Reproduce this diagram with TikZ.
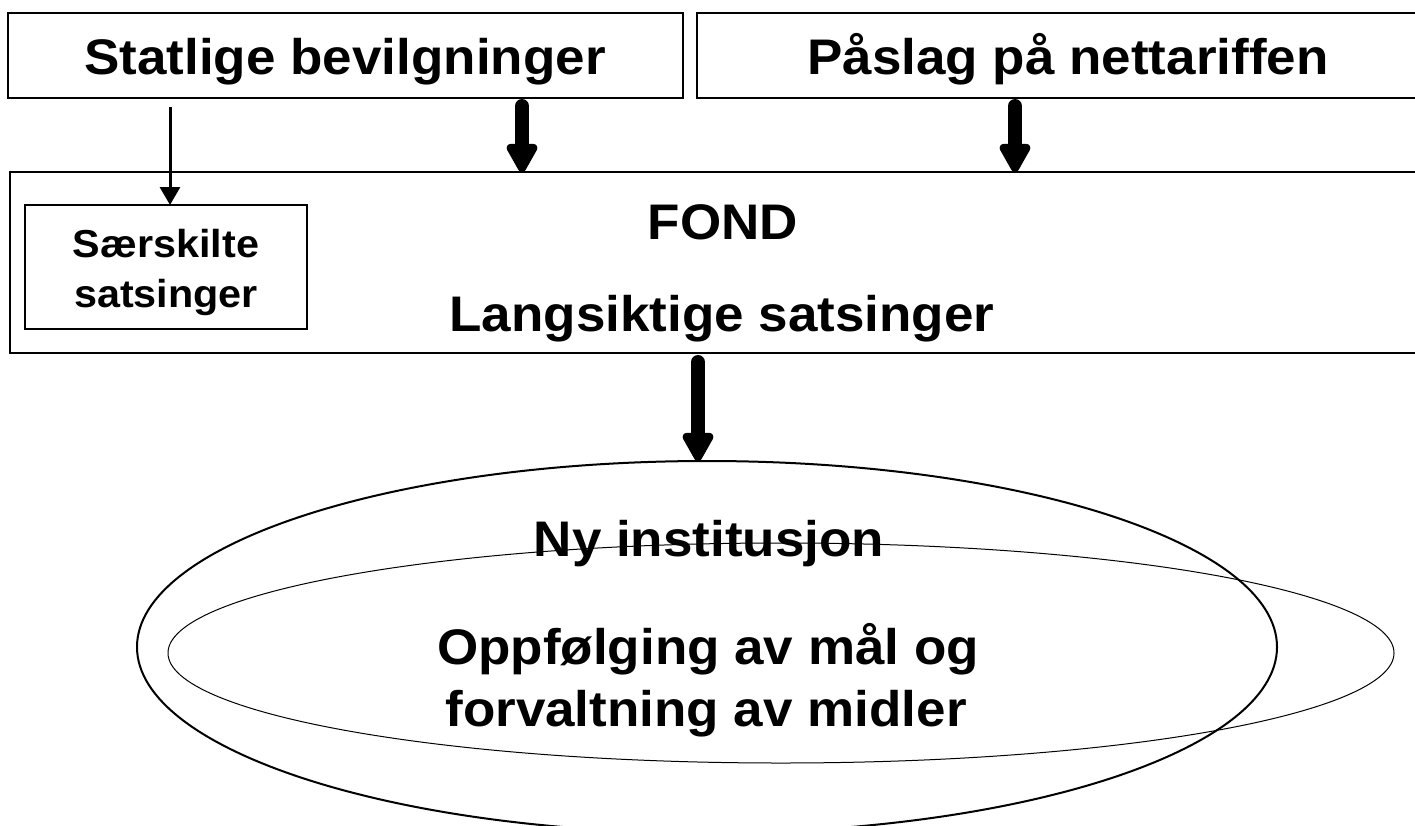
\documentclass[tikz,border=0pt]{standalone}
\usepackage{fontspec}
\setmainfont{Liberation Sans}[FakeStretch=1.06]
\usetikzlibrary{arrows.meta}
\tikzset{
  box/.style={draw=black, line width=2pt},
  lbl/.style={font=\fontsize{50}{60}\selectfont\bfseries, anchor=base, inner sep=0pt, align=center},
  slbl/.style={font=\fontsize{39}{48}\selectfont\bfseries, anchor=base, inner sep=0pt, align=center},
  thick arrow/.style={line width=14pt, line cap=round, -{Triangle[width=34pt,length=33pt,round=false]}},
  thin arrow/.style={line width=3pt, -{Triangle[width=20pt,length=18pt]}},
}
\begin{document}
\begin{tikzpicture}[x=1pt,y=-1pt]
\useasboundingbox (0,0) rectangle (1415,825);
\clip (0,0) rectangle (1415,825);
% boxes
\draw[box] (8,13) rectangle (683,98);
\draw[box] (697,13) rectangle (1430,98);
\draw[box] (10,172) rectangle (1430,353);
\draw[box] (25,205) rectangle (307,329);
\coordinate (fondtop1) at (522,172);
\coordinate (fondtop2) at (1015,172);
\coordinate (inntop) at (170,205);
\coordinate (s1) at (522,106);
\coordinate (s2) at (1015,106);
\coordinate (s0) at (170,107);
\coordinate (s3) at (698,362);
% ellipses
\draw[line width=2pt] (707,647) ellipse [x radius=570, y radius=186];
\draw[line width=1pt] (781,653) ellipse [x radius=613, y radius=110];
\coordinate (elltop) at (698,461);
% texts
\node[lbl] (stat) at (345,74) {Statlige bevilgninger};
\node[lbl] (pasl) at (1068,74) {Påslag på nettariffen};
\node[lbl] (fond) at (723,239) {FOND};
\node[lbl] (lang) at (722,331) {Langsiktige satsinger};
\node[slbl] (sar) at (166,257) {Særskilte};
\node[slbl] (sat) at (166,307) {satsinger};
\node[lbl] (ny) at (709,556) {Ny institusjon};
\node[lbl] (opp) at (708,664) {Oppfølging av mål og};
\node[lbl] (forv) at (706,726) {forvaltning av midler};
% arrows
\draw[thin arrow] (s0) -- (inntop);
\draw[thick arrow] (s1) -- (fondtop1);
\draw[thick arrow] (s2) -- (fondtop2);
\draw[thick arrow] (s3) -- (elltop);
\end{tikzpicture}
\end{document}
